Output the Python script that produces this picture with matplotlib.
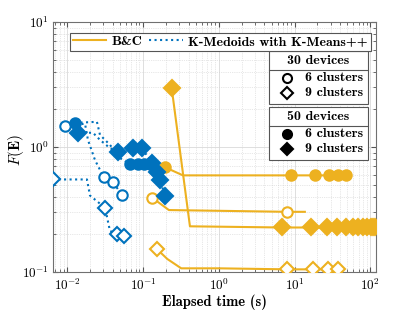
import math
import matplotlib
matplotlib.use('Agg')
import matplotlib.pyplot as plt
from matplotlib.lines import Line2D
from matplotlib.patches import Rectangle
from matplotlib.ticker import FuncFormatter, LogLocator, NullFormatter

plt.rcParams['mathtext.fontset'] = 'cm'
plt.rcParams['axes.unicode_minus'] = False

ORANGE = '#EDB120'
BLUE = '#0072BD'

# ---- B&C (orange, solid) ----
bc30_6_line_x = [0.1315, 0.22, 7.94, 13.7]
bc30_6_line_y = [0.394, 0.313, 0.303, 0.303]
bc30_6_mk_x = [0.1315, 7.94]
bc30_6_mk_y = [0.394, 0.303]

bc30_9_line_x = [0.152, 0.21, 0.32, 1.0, 7.94, 37.4]
bc30_9_line_y = [0.153, 0.127, 0.107, 0.107, 0.105, 0.105]
bc30_9_mk_x = [0.152, 7.94, 17.5, 27.6, 37.4]
bc30_9_mk_y = [0.153, 0.105, 0.105, 0.105, 0.105]

bc50_6_line_x = [0.195, 0.337, 8.97, 47.7]
bc50_6_line_y = [0.689, 0.593, 0.593, 0.593]
bc50_6_mk_x = [0.195, 8.97, 18.6, 28.4, 37.4, 47.7]
bc50_6_mk_y = [0.689, 0.593, 0.593, 0.593, 0.593, 0.593]

bc50_9_line_x = [0.239, 0.417, 6.82, 115]
bc50_9_line_y = [2.99, 0.232, 0.227, 0.227]
bc50_9_mk_x = [0.239, 6.82, 16.4, 26.7, 36.2, 47.6, 58.9, 68.6, 79.8, 90.2, 101.8, 108, 115]
bc50_9_mk_y = [2.99] + [0.227] * 12

# ---- K-Medoids with K-Means++ (blue, dotted) ----
km30_6_line_x = [0.00935, 0.0172, 0.0188, 0.0233, 0.0305, 0.0402, 0.0528]
km30_6_line_y = [1.48, 1.535, 1.14, 0.785, 0.571, 0.521, 0.416]
km30_6_mk_x = [0.00935, 0.0305, 0.0402, 0.0528]
km30_6_mk_y = [1.48, 0.571, 0.521, 0.416]

km30_9_line_x = [0.0065, 0.01825, 0.020, 0.0271, 0.0316, 0.0367, 0.045, 0.0561]
km30_9_line_y = [0.55, 0.55, 0.409, 0.352, 0.327, 0.213, 0.202, 0.194]
km30_9_mk_x = [0.0065, 0.0316, 0.045, 0.0561]
km30_9_mk_y = [0.55, 0.327, 0.202, 0.194]

km50_6_line_x = [0.01268, 0.0247, 0.0271, 0.0367, 0.0498, 0.0674, 0.0859, 0.103, 0.1236]
km50_6_line_y = [1.56, 1.59, 1.25, 1.04, 0.815, 0.728, 0.728, 0.73, 0.73]
km50_6_mk_x = [0.01268, 0.0674, 0.0859, 0.103, 0.1236]
km50_6_mk_y = [1.56, 0.728, 0.728, 0.73, 0.73]

km50_9_line_x = [0.01386, 0.0219, 0.0271, 0.0367, 0.0468, 0.0738, 0.097, 0.1315, 0.153, 0.168, 0.195]
km50_9_line_y = [1.30, 1.30, 1.14, 0.98, 0.911, 0.98, 0.98, 0.742, 0.627, 0.541, 0.409]
km50_9_mk_x = [0.01386, 0.0468, 0.0738, 0.097, 0.1315, 0.153, 0.168, 0.195]
km50_9_mk_y = [1.30, 0.911, 0.98, 0.98, 0.742, 0.627, 0.541, 0.409]

fig = plt.figure(figsize=(4.15, 3.12), dpi=100)
ax = fig.add_axes([53 / 415, 1 - 272 / 312, 323 / 415, 250 / 312])
ax.set_xscale('log')
ax.set_yscale('log')
ax.set_xlim(0.0065, 119)
ax.set_ylim(0.1, 10)

lw = 1.5
ms_c = 7.5
ms_d = 8

def series(lx, ly, mx, my, color, ls, marker, filled, ms):
    ax.plot(lx, ly, color=color, ls=ls, lw=lw, zorder=2)
    ax.plot(mx, my, ls='none', marker=marker, ms=ms, mew=1.5,
            mec=color, mfc=color if filled else 'white', zorder=3)

series(bc30_6_line_x, bc30_6_line_y, bc30_6_mk_x, bc30_6_mk_y, ORANGE, '-', 'o', False, ms_c)
series(bc30_9_line_x, bc30_9_line_y, bc30_9_mk_x, bc30_9_mk_y, ORANGE, '-', 'D', False, ms_c)
series(bc50_6_line_x, bc50_6_line_y, bc50_6_mk_x, bc50_6_mk_y, ORANGE, '-', 'o', True, ms_c)
series(bc50_9_line_x, bc50_9_line_y, bc50_9_mk_x, bc50_9_mk_y, ORANGE, '-', 'D', True, ms_d)
series(km30_6_line_x, km30_6_line_y, km30_6_mk_x, km30_6_mk_y, BLUE, ':', 'o', False, ms_c)
series(km30_9_line_x, km30_9_line_y, km30_9_mk_x, km30_9_mk_y, BLUE, ':', 'D', False, ms_c)
series(km50_6_line_x, km50_6_line_y, km50_6_mk_x, km50_6_mk_y, BLUE, ':', 'o', True, ms_c)
series(km50_9_line_x, km50_9_line_y, km50_9_mk_x, km50_9_mk_y, BLUE, ':', 'D', True, ms_d)

# grid, ticks
ax.grid(True, which='major', color='#d9d9d9', lw=0.6, ls='-')
ax.grid(True, which='minor', color='#d0d0d0', lw=0.5, ls=':')
ax.set_axisbelow(True)
for a in (ax.xaxis, ax.yaxis):
    a.set_major_locator(LogLocator(base=10, numticks=10))
    a.set_minor_locator(LogLocator(base=10, subs=range(2, 10), numticks=20))
    a.set_minor_formatter(NullFormatter())
fmt = FuncFormatter(lambda v, p: r'$\mathbf{10^{%d}}$' % round(math.log10(v)))
ax.xaxis.set_major_formatter(fmt)
ax.yaxis.set_major_formatter(fmt)
ax.tick_params(which='both', direction='in', top=True, right=True, color='#555555')
ax.tick_params(which='major', length=3.5, labelsize=9.5, pad=4)
ax.tick_params(axis='y', which='major', pad=3)
ax.tick_params(which='minor', length=2)
for s in ax.spines.values():
    s.set_color('#707070')
    s.set_linewidth(0.8)

ax.set_xlabel('Elapsed time (s)', fontfamily='cmb10', fontsize=10.5, labelpad=1)
ax.set_ylabel(r'$F(\mathbf{E})$', fontsize=11)
ax.yaxis.set_label_coords(-0.085, 0.49)

# top legend
h = [Line2D([], [], color=ORANGE, lw=lw, ls='-'),
     Line2D([], [], color=BLUE, lw=lw, ls=':')]
leg = ax.legend(h, ['B&C', 'K-Medoids with K-Means++'], ncol=2,
                loc='upper left', bbox_to_anchor=(0.053, 0.958),
                prop={'family': 'cmb10', 'size': 10}, fancybox=False,
                edgecolor='#555555', framealpha=1, handlelength=2.4,
                columnspacing=0.5, handletextpad=0.4, borderpad=0.2,
                borderaxespad=0)
leg.get_frame().set_linewidth(0.8)

# device legend boxes
def dev_box(top, title, filled):
    bottom = top - 0.212
    sep = top - 0.076
    ax.add_patch(Rectangle((0.669, bottom), 0.306, 0.212, transform=ax.transAxes,
                           facecolor='white', edgecolor='#555555', lw=0.8, zorder=5))
    ax.plot([0.669, 0.975], [sep, sep], transform=ax.transAxes, color='#555555',
            lw=0.8, zorder=6)
    ax.text(0.822, top - 0.038, title, transform=ax.transAxes, ha='center',
            va='center', fontfamily='cmb10', fontsize=10, zorder=6)
    for dy, mk, lab in ((0.108, 'o', '6 clusters'), (0.168, 'D', '9 clusters')):
        ax.plot([0.725], [top - dy], transform=ax.transAxes, marker=mk, ms=6.5 if mk == 'o' else 6,
                mew=1.5, mec='black', mfc='black' if filled else 'white', zorder=6, ls='none')
        ax.text(0.779, top - dy, lab, transform=ax.transAxes, ha='left', va='center',
                fontfamily='cmb10', fontsize=10, zorder=6)

dev_box(0.884, '30 devices', False)
dev_box(0.660, '50 devices', True)

fig.savefig('out.png', dpi=100)
